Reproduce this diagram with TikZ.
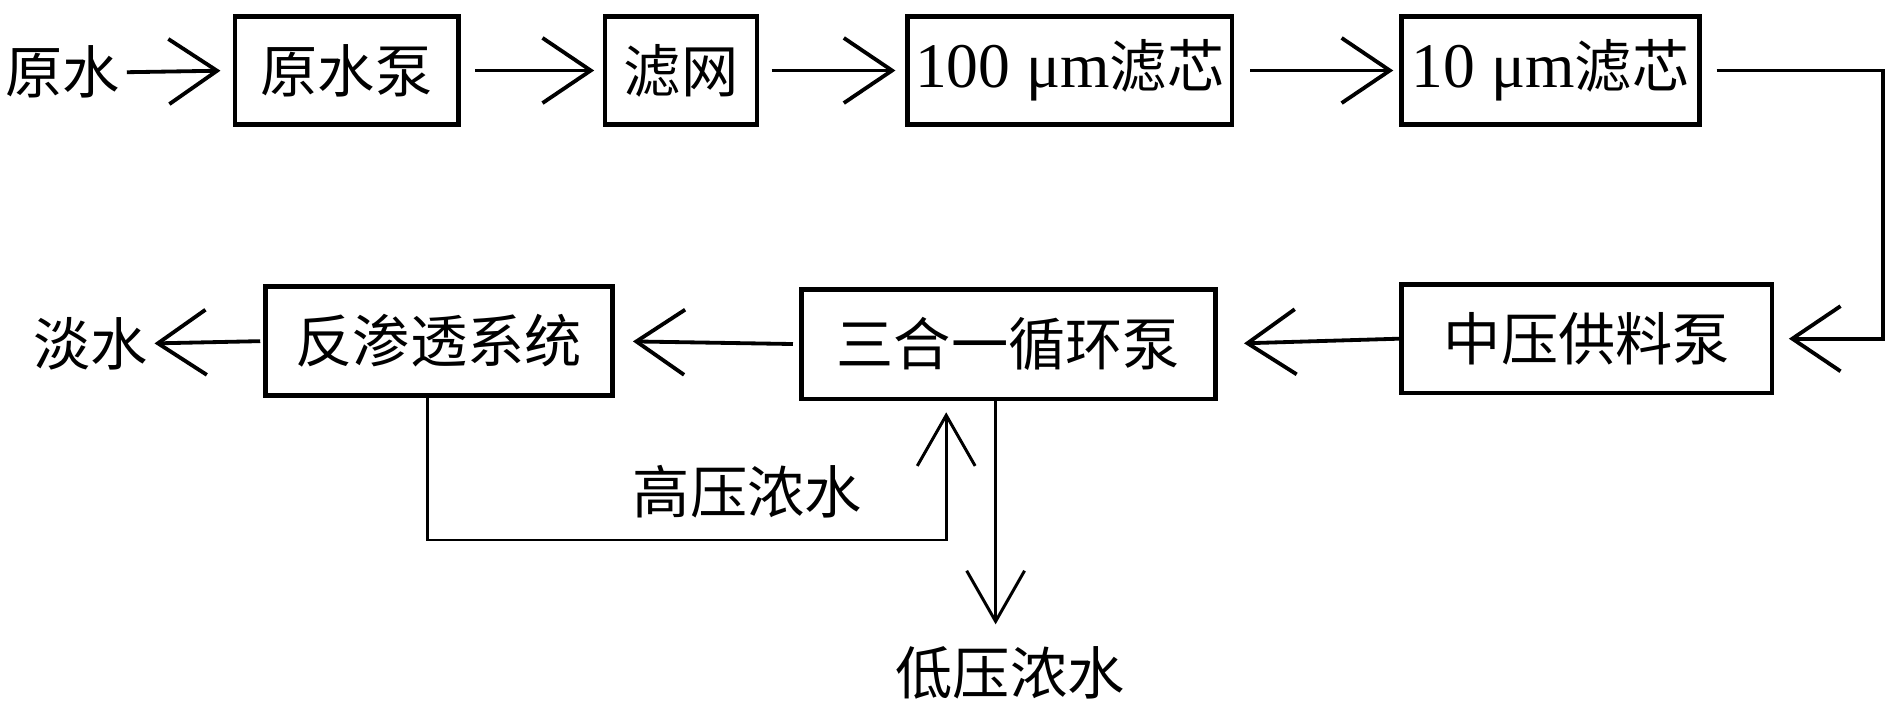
\documentclass[tikz,border=0pt]{standalone}
\usepackage{fontspec}
\setmainfont{Liberation Serif}
\newfontfamily\cjk{Noto Sans CJK SC}
\usetikzlibrary{arrows.meta}
\newcommand\myfs{\fontsize{13.5}{16}\selectfont\cjk}
\newcommand\latn[1]{{\fontsize{15}{16}\selectfont\rmfamily #1}}
\begin{document}
\begin{tikzpicture}[x=0.01cm,y=-0.01cm,
  box/.style={draw,line width=1.15pt,minimum height=0.9cm,inner sep=0pt,font=\myfs},
  lbl/.style={inner sep=0pt,font=\myfs},
  conn/.style={line width=0.9pt,-{Straight Barb[length=4mm,width=5.4mm,line width=0.9pt]}},
  thin/.style={line width=0.7pt,-{Straight Barb[length=4.2mm,width=4.8mm,line width=0.7pt]}},
]
\useasboundingbox (0,0) rectangle (1568,595.7);
% labels
\node[lbl] (raw) at (52,60) {原水};
\node[lbl] (fresh) at (75,285) {淡水};
\node[lbl] (hp) at (620,408) {高压浓水};
\node[lbl] (lp) at (838,558) {低压浓水};
% boxes
\node[box,minimum width=1.85cm,minimum height=0.89cm] (b1) at (287.5,58.5) {原水泵};
\node[box,minimum width=1.26cm,minimum height=0.89cm] (b2) at (565,58.5) {滤网};
\node[box,minimum width=2.69cm,minimum height=0.89cm] (b3) at (887.5,58.5) {\latn{100 μm}滤芯};
\node[box,minimum width=2.47cm,minimum height=0.89cm] (b4) at (1286.5,58.5) {\latn{10 μm}滤芯};
\node[box,minimum width=3.07cm,minimum height=0.90cm] (b5) at (1316.5,281) {中压供料泵};
\node[box,minimum width=3.43cm,minimum height=0.91cm] (b6) at (836.5,285.5) {三合一循环泵};
\node[box,minimum width=2.88cm,minimum height=0.90cm] (b7) at (364,283) {反渗透系统};
\coordinate (c3) at (1562,281);
\coordinate (c1) at (785,448);
\coordinate (c2) at (826,518);
% connectors
\draw[conn,shorten <=0.5mm,shorten >=1mm] (raw.east) -- (b1.west);
\draw[conn,shorten <=1.2mm,shorten >=0.7mm] (b1.east) -- (b2.west);
\draw[conn,shorten <=1mm,shorten >=0.8mm] (b2.east) -- (b3.west);
\draw[conn,shorten <=1.3mm,shorten >=0.5mm] (b3.east) -- (b4.west);
\draw[conn,shorten <=1.2mm,shorten >=1.2mm] (b4.east) -| (c3) -- (b5.east);
\draw[conn,shorten >=2.2mm] (b5.west) -- (b6.east);
\draw[conn,shorten <=0.5mm,shorten >=1.5mm] (b6.west) -- (b7.west -| b7.east);
\draw[conn,shorten <=0.2mm,shorten >=0.5mm] (b7.west) -- (fresh.east);
\draw[thin,shorten >=0.9mm] ([xshift=-0.09cm]b7.south) |- (c1) -- (c1 |- b6.south);
\draw[thin] (b6.south -| c2) -- (c2);
\end{tikzpicture}
\end{document}
